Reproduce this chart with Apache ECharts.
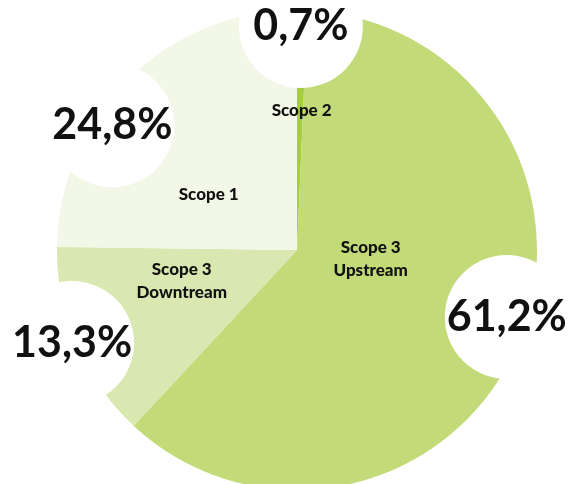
<!DOCTYPE html>
<html>
<head>
<meta charset="utf-8">
<script src="https://cdn.jsdelivr.net/npm/echarts@6/dist/echarts.min.js"></script>
<style>
  html, body { margin: 0; padding: 0; background: #fff; }
  #chart { width: 573px; height: 484px; }
</style>
</head>
<body>
<div id="chart"></div>
<script>
// clockwise from 12 o'clock
const categories = ['Scope 2', 'Scope 3\nUpstream', 'Scope 3\nDowntream', 'Scope 1']
const shares = [0.7, 61.2, 13.3, 24.8]
const colors = ['#a6cc3f', '#c2da78', '#d9e7b0', '#f3f7e7']

// small nudges away from the default label spots
const nameShift = [[2, -20], [-37, -37], [-5, -16], [-4, 30]]
const pctShift = [[-1, -1], [4, -19], [-20, 5], [-28, 34]]

const center = [297, 250]
const font = 'Lato'

const chart = echarts.init(document.getElementById('chart'))

const pieData = categories.map((name, i) => ({
  name: name,
  value: shares[i],
  itemStyle: { color: colors[i] },
}))

chart.setOption({
  animation: false,
  series: [
    {
      type: 'pie',
      center: center,
      radius: [0, 234],
      startAngle: 90,
      clockwise: true,
      silent: true,
      itemStyle: { borderWidth: 0 },
      label: {
        show: true,
        position: 'inside',
        formatter: '{b}',
        color: '#111',
        fontFamily: font,
        fontWeight: 900,
        fontSize: 17,
        lineHeight: 23,
        align: 'center',
      },
      labelLine: { show: false },
      labelLayout: (p) => ({ dx: nameShift[p.dataIndex][0], dy: nameShift[p.dataIndex][1] }),
      data: pieData,
    },
    {
      // white bubbles with the percentages
      type: 'pie',
      z: 3,
      center: center,
      radius: [200, 240],
      startAngle: 90,
      clockwise: true,
      silent: true,
      itemStyle: { color: 'rgba(0,0,0,0)', borderWidth: 0 },
      label: {
        show: true,
        position: 'inside',
        formatter: (p) => p.value.toFixed(1).replace('.', ',') + '%',
        color: '#111',
        fontFamily: font,
        fontWeight: 'bold',
        fontSize: 43,
        backgroundColor: '#fff',
        width: 124,
        height: 124,
        lineHeight: 124,
        borderRadius: 62,
        align: 'center',
        verticalAlign: 'middle',
      },
      labelLine: { show: false },
      labelLayout: (p) => ({ dx: pctShift[p.dataIndex][0], dy: pctShift[p.dataIndex][1] }),
      data: pieData,
    },
  ],
})
</script>
</body>
</html>
